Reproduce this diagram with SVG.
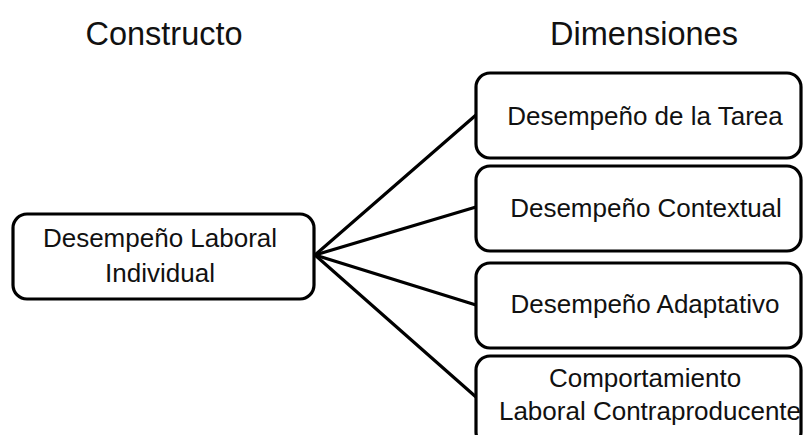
<svg xmlns="http://www.w3.org/2000/svg" width="803" height="435" viewBox="0 0 803 435">
  <style>
    .box { fill: #ffffff; stroke: #000000; stroke-width: 3.2; }
    .lbl { font-family: "Liberation Sans", Arial, sans-serif; font-size: 26px; fill: #111111; text-anchor: middle; }
    .hdr { font-family: "Liberation Sans", Arial, sans-serif; font-size: 32.5px; fill: #111111; text-anchor: middle; }
    .edge { stroke: #000000; stroke-width: 3.2; fill: none; stroke-linecap: round; }
  </style>
  <rect width="803" height="435" fill="#ffffff"/>

  <!-- column headings -->
  <text class="hdr" x="164" y="45">Constructo</text>
  <text class="hdr" x="644" y="45">Dimensiones</text>

  <!-- connectors -->
  <g id="connectors">
    <line class="edge" x1="315" y1="255" x2="476" y2="115"/>
    <line class="edge" x1="315" y1="255" x2="476" y2="207"/>
    <line class="edge" x1="315" y1="255" x2="476" y2="305"/>
    <line class="edge" x1="315" y1="255" x2="476" y2="397"/>
  </g>

  <g id="construct">
    <rect class="box" x="13" y="214" width="301" height="85" rx="14"/>
    <text class="lbl" x="160" y="247">Desempeño Laboral</text>
    <text class="lbl" x="160" y="282">Individual</text>
  </g>

  <g id="dim-tarea">
    <rect class="box" x="476" y="73" width="325" height="85" rx="14"/>
    <text class="lbl" x="645" y="125">Desempeño de la Tarea</text>
  </g>

  <g id="dim-contextual">
    <rect class="box" x="476" y="166" width="325" height="85" rx="14"/>
    <text class="lbl" x="646" y="217">Desempeño Contextual</text>
  </g>

  <g id="dim-adaptativo">
    <rect class="box" x="476" y="263" width="325" height="85" rx="14"/>
    <text class="lbl" x="645" y="313">Desempeño Adaptativo</text>
  </g>

  <g id="dim-contraproducente">
    <rect class="box" x="476" y="356" width="325" height="90" rx="14"/>
    <text class="lbl" x="645" y="387">Comportamiento</text>
    <text class="lbl" x="650" y="420">Laboral Contraproducente</text>
  </g>
</svg>
